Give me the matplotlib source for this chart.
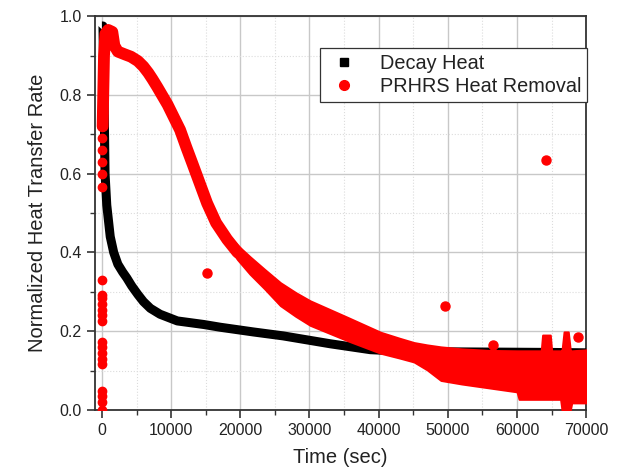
import matplotlib
matplotlib.use("Agg")
import matplotlib.pyplot as plt
from matplotlib.lines import Line2D
from matplotlib.ticker import MultipleLocator, FormatStrFormatter

plt.rcParams['font.family'] = ['Liberation Sans', 'DejaVu Sans']

# ---- data ----
t_decay = [0, 150, 300, 450, 700, 1200, 1700, 2300, 3000, 3600, 4300, 5200, 6000, 7000,
           8400, 10900, 14700, 17100, 21900, 26200, 33000, 38800, 45000, 55000, 65000, 70000]
v_decay = [0.975, 0.975, 0.80, 0.60, 0.52, 0.44, 0.40, 0.37, 0.35, 0.335, 0.315, 0.293,
           0.275, 0.258, 0.243, 0.226, 0.217, 0.21, 0.198, 0.188, 0.168, 0.153,
           0.148, 0.147, 0.146, 0.145]

# PRHRS heat removal, early smooth part (centre line)
t_prhrs = [100, 300, 500, 900, 1500, 1800, 2300, 3300, 4200, 5200, 6000, 6700, 7300,
           8000, 9500, 11300, 12200, 13200, 15200, 16500, 18100, 19600]
v_prhrs = [0.72, 0.90, 0.955, 0.965, 0.96, 0.925, 0.91, 0.903, 0.897, 0.886, 0.872, 0.856,
           0.84, 0.82, 0.775, 0.711, 0.667, 0.62, 0.525, 0.475, 0.433, 0.40]

# PRHRS heat removal, later scattered part (upper / lower envelope of the points)
t_band = [18100, 19600, 21400, 23500, 25800, 28000, 30100, 35500, 40300, 43000, 45100,
          47000, 49000, 52000, 56000, 60000, 60300, 63500, 63700, 64800, 65000,
          66300, 66500, 66800, 67400, 67700, 67900, 70500]
band_hi = [0.447, 0.418, 0.389, 0.357, 0.323, 0.298, 0.277, 0.235, 0.197, 0.182, 0.171,
           0.165, 0.160, 0.155, 0.151, 0.150, 0.150, 0.150, 0.190, 0.190, 0.150,
           0.150, 0.150, 0.198, 0.198, 0.150, 0.150, 0.153]
band_lo = [0.419, 0.382, 0.345, 0.308, 0.265, 0.238, 0.215, 0.176, 0.144, 0.132, 0.122,
           0.102, 0.075, 0.066, 0.056, 0.046, 0.027, 0.027, 0.027, 0.027, 0.027,
           0.027, 0.000, 0.000, 0.000, 0.000, 0.018, 0.018]

# scattered PRHRS points at t ~ 0
t_init = [0] * 21
v_init = [0.0, 0.02, 0.035, 0.048, 0.116, 0.13, 0.145, 0.16, 0.172,
          0.225, 0.24, 0.255, 0.27, 0.283, 0.293, 0.33,
          0.567, 0.60, 0.63, 0.66, 0.69]
t_init2 = [200]
v_init2 = [0.754]

# isolated PRHRS outliers
t_out = [15200, 49600, 64200, 49600, 56500, 68800]
v_out = [0.347, 0.263, 0.635, 0.089, 0.165, 0.185]

labels = ["Decay Heat", "PRHRS Heat Removal"]

# ---- figure ----
fig = plt.figure(figsize=(6.21, 4.75), dpi=100)
ax = fig.add_axes([0.153, 0.137, 0.791, 0.829])

txt = '#222222'
red = '#ff0000'
ax.plot(t_decay, v_decay, color='black', lw=6.5, solid_capstyle='butt',
        solid_joinstyle='round', zorder=3)
ax.plot(t_prhrs, v_prhrs, color=red, lw=8.5, solid_capstyle='round',
        solid_joinstyle='round', zorder=4)
ax.fill_between(t_band, band_lo, band_hi, color=red, lw=1.5,
                edgecolor=red, zorder=4)
ax.plot(t_init + t_init2, v_init + v_init2, ls='none', marker='o', ms=6,
        color=red, zorder=5)
ax.plot(t_out, v_out, ls='none', marker='o', ms=6.5, color=red, zorder=5)

ax.set_xlim(-1000, 70000)
ax.set_ylim(0, 1.0)
ax.xaxis.set_major_locator(MultipleLocator(10000))
ax.xaxis.set_minor_locator(MultipleLocator(5000))
ax.yaxis.set_major_locator(MultipleLocator(0.2))
ax.yaxis.set_minor_locator(MultipleLocator(0.1))
ax.set_xticks(range(0, 70001, 10000))
ax.set_xticklabels([str(v) for v in range(0, 70001, 10000)])
ax.yaxis.set_major_formatter(FormatStrFormatter('%.1f'))

ax.grid(which='major', color='#c8c8c8', lw=1.0, ls='-', zorder=0)
ax.grid(which='minor', color='#dcdcdc', lw=0.8, ls=':', zorder=0)
ax.set_axisbelow(True)

for s in ax.spines.values():
    s.set_color('#333333')
    s.set_linewidth(1.3)
ax.tick_params(which='major', direction='out', length=6, width=1.2,
               colors='#333333', labelsize=11.5, labelcolor=txt)
ax.tick_params(which='minor', direction='out', length=3.5, width=1.0,
               colors='#333333')

ax.set_xlabel("Time (sec)", fontsize=14.5, color=txt, labelpad=7)
ax.set_ylabel("Normalized Heat Transfer Rate", fontsize=14.5, color=txt, labelpad=9)

handles = [Line2D([], [], ls='none', marker='s', color='black', ms=6),
           Line2D([], [], ls='none', marker='o', color=red, ms=7)]
leg = ax.legend(handles, labels, loc='upper right', bbox_to_anchor=(1.002, 0.918),
                fontsize=14.3, frameon=True, fancybox=False, framealpha=1,
                edgecolor='#333333', borderaxespad=0, handletextpad=0.9,
                labelspacing=0.2, borderpad=0.3, handlelength=1.8)
leg.get_frame().set_linewidth(0.9)
for t in leg.get_texts():
    t.set_color(txt)

fig.savefig("out.png", dpi=100)
